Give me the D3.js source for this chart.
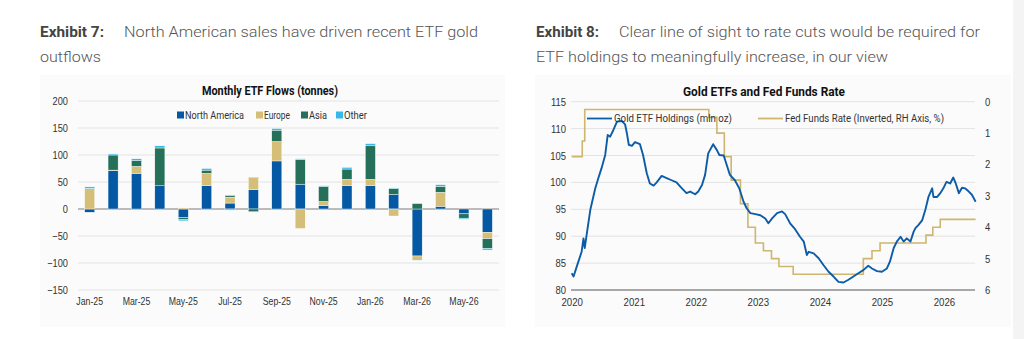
<!DOCTYPE html>
<html>
<head>
<meta charset="utf-8">
<script src="https://cdn.jsdelivr.net/npm/d3@7"></script>
<style>
  html, body { margin: 0; padding: 0; background: #fff; }
  svg { display: block; font-family: Roboto, 'Noto Sans', sans-serif; }
</style>
</head>
<body>
<div class="page"></div>
<script>
// Exhibit 7 data (tonnes)
var months = ['Jan-25', 'Feb-25', 'Mar-25', 'Apr-25', 'May-25', 'Jun-25', 'Jul-25', 'Aug-25', 'Sep-25',
  'Oct-25', 'Nov-25', 'Dec-25', 'Jan-26', 'Feb-26', 'Mar-26', 'Apr-26', 'May-26', 'Jun-26'];
var northAmerica = [-6, 71, 66, 43, -16, 43, 11, 36, 89, 46, 6, 43, 43, 27, -87, 5, -9, -43];
var europe = [38, 1, 13, 0, 2, 23, 11, 22, 36, -36, 8, 12, 12, -13, -8, 26, 0, -12];
var asia = [0, 28, 11, 70, -4, 6, 3, -5, 21, 46, 28, 19, 62, 11, 10, 11, -8, -18];
var other = [3, 2, 3, 4, -2, 3, -2, 1, 3, 1, 1, 3, 4, 1, -1, 3, -2, -3];
var regions = ['North America', 'Europe', 'Asia', 'Other'];
var flowTicks = [-150, -100, -50, 0, 50, 100, 150, 200];

// Exhibit 8 data: gold ETF holdings (mln oz), [decimal year, value]
var etfHoldings = [
  [2020.00, 83.1], [2020.03, 82.5], [2020.08, 84.3], [2020.16, 87.1], [2020.19, 89.6], [2020.21, 87.8],
  [2020.24, 90.2], [2020.30, 94.9], [2020.38, 98.9], [2020.43, 100.8], [2020.48, 102.6], [2020.54, 105.1],
  [2020.58, 108.8], [2020.62, 108.5], [2020.67, 109.7], [2020.73, 111.3], [2020.81, 111.4], [2020.86, 110.8],
  [2020.89, 109.1], [2020.92, 107.0], [2020.97, 106.8], [2021.02, 107.5], [2021.10, 107.1], [2021.15, 105.1],
  [2021.21, 101.7], [2021.26, 99.8], [2021.32, 99.4], [2021.37, 100.0], [2021.45, 101.2], [2021.53, 100.8],
  [2021.61, 100.4], [2021.69, 100.0], [2021.75, 99.2], [2021.80, 98.6], [2021.85, 98.0], [2021.91, 98.3],
  [2021.99, 97.8], [2022.04, 98.3], [2022.10, 99.5], [2022.15, 101.4], [2022.20, 105.4], [2022.28, 107.1],
  [2022.34, 106.0], [2022.38, 105.1], [2022.45, 105.0], [2022.50, 103.2], [2022.55, 101.4], [2022.63, 100.4],
  [2022.70, 98.9], [2022.77, 96.4], [2022.82, 95.2], [2022.88, 94.3], [2022.96, 94.1], [2023.04, 93.9],
  [2023.12, 93.3], [2023.17, 92.4], [2023.23, 93.3], [2023.31, 94.3], [2023.39, 94.6], [2023.44, 94.1],
  [2023.52, 92.4], [2023.60, 91.3], [2023.68, 89.9], [2023.74, 89.0], [2023.79, 86.5], [2023.82, 87.1],
  [2023.90, 86.8], [2023.98, 85.9], [2024.06, 84.6], [2024.14, 83.4], [2024.22, 82.5], [2024.30, 81.5],
  [2024.38, 81.4], [2024.46, 81.9], [2024.54, 82.5], [2024.62, 83.1], [2024.70, 83.7], [2024.78, 84.5],
  [2024.84, 84.0], [2024.92, 83.5], [2025.00, 83.4], [2025.08, 84.0], [2025.13, 85.3], [2025.19, 87.8],
  [2025.24, 89.0], [2025.30, 89.9], [2025.35, 89.0], [2025.40, 89.6], [2025.46, 89.0], [2025.51, 90.8],
  [2025.54, 91.5], [2025.59, 92.1], [2025.65, 93.0], [2025.70, 94.9], [2025.75, 97.3], [2025.81, 98.9],
  [2025.83, 97.3], [2025.89, 97.3], [2025.94, 98.0], [2025.99, 98.9], [2026.04, 100.1], [2026.10, 99.8],
  [2026.15, 100.9], [2026.19, 99.8], [2026.24, 98.0], [2026.29, 99.0], [2026.34, 98.9], [2026.40, 98.3],
  [2026.45, 97.7], [2026.51, 96.4]
];
// Fed funds rate (upper bound, %), steps [decimal year, rate]
var fedFunds = [
  [2020.00, 1.75], [2020.17, 1.25], [2020.21, 0.25], [2022.21, 0.5], [2022.34, 1.0], [2022.46, 1.75],
  [2022.57, 2.5], [2022.72, 3.25], [2022.84, 4.0], [2022.96, 4.5], [2023.09, 4.75], [2023.22, 5.0],
  [2023.34, 5.25], [2023.57, 5.5], [2024.70, 5.0], [2024.84, 4.75], [2024.97, 4.5], [2025.71, 4.25],
  [2025.82, 4.0], [2025.94, 3.75], [2026.51, 3.75]
];
var yearTicks = [2020, 2021, 2022, 2023, 2024, 2025, 2026];
var holdingTicks = [80, 85, 90, 95, 100, 105, 110, 115];
var rateTicks = [0, 1, 2, 3, 4, 5, 6];

var colors = {
  'North America': '#0559a4',
  Europe: '#d5be78',
  Asia: '#26705a',
  Other: '#35b9e9'
};
var blue = '#0c5ca8',
  gold = '#cfb66e',
  grid = '#e3e3e3',
  ink = '#333';

var svg = d3
  .select('.page')
  .append('svg')
  .attr('width', 1024)
  .attr('height', 339);

// squeeze a text to the width seen in the picture
function fit(sel, w) {
  sel.attr('textLength', w).attr('lengthAdjust', 'spacingAndGlyphs');
}
function narrow(sel, k) {
  sel.each(function () {
    var len = this.getComputedTextLength();
    d3.select(this).attr('textLength', len * k).attr('lengthAdjust', 'spacingAndGlyphs');
  });
}

// panels
svg.append('rect').attr('x', 40).attr('y', 75).attr('width', 465).attr('height', 252).attr('fill', '#fbfbfb');
svg.append('rect').attr('x', 535).attr('y', 75).attr('width', 476).attr('height', 252).attr('fill', '#fbfbfb');
svg.append('rect').attr('x', 1013).attr('y', 0).attr('width', 11).attr('height', 339).attr('fill', '#f4f4f4');

// headings
function heading(x, label, x2, line1, w1, line2, w2) {
  svg.append('text').attr('x', x).attr('y', 37).attr('font-size', 15).attr('font-weight', 700)
    .attr('fill', '#444').text(label).call(fit, x2 - x - 20);
  svg.append('text').attr('x', x2).attr('y', 37).attr('font-size', 15.5).attr('font-weight', 300)
    .attr('fill', '#555').text(line1).call(fit, w1);
  svg.append('text').attr('x', x).attr('y', 62).attr('font-size', 15.5).attr('font-weight', 300)
    .attr('fill', '#555').text(line2).call(fit, w2);
}
heading(40, 'Exhibit 7:', 124, 'North American sales have driven recent ETF gold', 354, 'outflows', 61);
heading(536, 'Exhibit 8:', 619, 'Clear line of sight to rate cuts would be required for', 361,
  'ETF holdings to meaningfully increase, in our view', 352);

// ---------- Exhibit 7: stacked bars ----------
var left = svg.append('g');

var x = d3
  .scaleBand()
  .domain(months)
  .range([78, 499])
  .paddingInner(0.57)
  .paddingOuter(0.285);

var y = d3.scaleLinear().domain([-150, 200]).range([290, 101]);

left.append('text').attr('x', 270).attr('y', 95).attr('text-anchor', 'middle').attr('font-size', 12.5)
  .attr('font-weight', 700).attr('fill', '#111').text('Monthly ETF Flows (tonnes)').call(fit, 136);

left
  .append('g')
  .selectAll('line')
  .data(flowTicks)
  .join('line')
  .attr('x1', 78)
  .attr('x2', 499)
  .attr('y1', function (d) { return y(d); })
  .attr('y2', function (d) { return y(d); })
  .attr('stroke', function (d) { return d === 0 ? '#a6a6a6' : grid; })
  .attr('stroke-width', function (d) { return d === 0 ? 1.6 : 1; });

var yAxis = left
  .append('g')
  .attr('transform', 'translate(68,0)')
  .call(d3.axisLeft(y).tickValues(flowTicks).tickSize(0).tickPadding(0));
yAxis.select('.domain').remove();
yAxis.selectAll('text').attr('font-size', 11).attr('fill', ink).call(narrow, 0.84);

var xAxis = left
  .append('g')
  .attr('transform', 'translate(0,297)')
  .call(d3.axisBottom(x).tickValues(months.filter(function (d, i) { return i % 2 === 0; })).tickSize(0).tickPadding(0));
xAxis.select('.domain').remove();
xAxis.selectAll('text').attr('font-size', 11.5).attr('fill', ink).attr('dy', '0.71em').call(narrow, 0.76);

var rows = months.map(function (m, i) {
  return {
    month: m,
    'North America': northAmerica[i],
    Europe: europe[i],
    Asia: asia[i],
    Other: other[i]
  };
});

var stack = d3.stack().keys(regions).offset(d3.stackOffsetDiverging)(rows);

left
  .append('g')
  .selectAll('g')
  .data(stack)
  .join('g')
  .attr('fill', function (d) { return colors[d.key]; })
  .selectAll('rect')
  .data(function (d) { return d; })
  .join('rect')
  .attr('x', function (d) { return x(d.data.month); })
  .attr('width', x.bandwidth())
  .attr('y', function (d) { return y(Math.max(d[0], d[1])); })
  .attr('height', function (d) { return Math.abs(y(d[0]) - y(d[1])); })
  .attr('stroke', '#fff')
  .attr('stroke-width', 0.4);

// legend
var legendX = [177, 256, 301, 336];
var legendW = [59, 26, 18, 23];
var legend = left
  .append('g')
  .selectAll('g')
  .data(regions)
  .join('g')
  .attr('transform', function (d, i) { return 'translate(' + legendX[i] + ',115)'; });
legend.append('rect').attr('x', 0).attr('y', -3.5).attr('width', 7).attr('height', 7)
  .attr('fill', function (d) { return colors[d]; });
legend.append('text').attr('x', 8).attr('dy', '0.35em').attr('font-size', 11).attr('fill', ink)
  .text(function (d) { return d; })
  .each(function (d, i) { d3.select(this).call(fit, legendW[i]); });

// ---------- Exhibit 8: lines ----------
var right = svg.append('g');

var xt = d3.scaleLinear().domain([2020, 2026.5]).range([571.7, 975]);
var yh = d3.scaleLinear().domain([80, 115]).range([290, 101.7]);
var yr = d3.scaleLinear().domain([0, 6]).range([101.7, 290]);

right.append('text').attr('x', 764).attr('y', 96).attr('text-anchor', 'middle').attr('font-size', 12.5)
  .attr('font-weight', 700).attr('fill', '#111').text('Gold ETFs and Fed Funds Rate').call(fit, 162);

right
  .append('g')
  .selectAll('line')
  .data(holdingTicks)
  .join('line')
  .attr('x1', 571)
  .attr('x2', 975)
  .attr('y1', function (d) { return yh(d); })
  .attr('y2', function (d) { return yh(d); })
  .attr('stroke', function (d) { return d === 80 ? '#8c8c8c' : grid; })
  .attr('stroke-width', function (d) { return d === 80 ? 1.3 : 1; });

var hAxis = right
  .append('g')
  .attr('transform', 'translate(566,0)')
  .call(d3.axisLeft(yh).tickValues(holdingTicks).tickSize(0).tickPadding(0));
hAxis.select('.domain').remove();
hAxis.selectAll('text').attr('font-size', 11).attr('fill', ink).call(narrow, 0.86);

var rAxis = right
  .append('g')
  .attr('transform', 'translate(985,0)')
  .call(d3.axisRight(yr).tickValues(rateTicks).tickFormat(d3.format('d')).tickSize(0).tickPadding(0));
rAxis.select('.domain').remove();
rAxis.selectAll('text').attr('font-size', 11).attr('fill', ink).call(narrow, 0.86);

var tAxis = right
  .append('g')
  .attr('transform', 'translate(0,298)')
  .call(d3.axisBottom(xt).tickValues(yearTicks).tickFormat(d3.format('d')).tickSize(0).tickPadding(0));
tAxis.select('.domain').remove();
tAxis.selectAll('text').attr('font-size', 11.5).attr('fill', ink).attr('dy', '0.71em').call(narrow, 0.84);

right
  .append('path')
  .datum(fedFunds)
  .attr('fill', 'none')
  .attr('stroke', gold)
  .attr('stroke-width', 1.6)
  .attr('d', d3.line()
    .curve(d3.curveStepAfter)
    .x(function (d) { return xt(d[0]); })
    .y(function (d) { return yr(d[1]); }));

right
  .append('path')
  .datum(etfHoldings)
  .attr('fill', 'none')
  .attr('stroke', blue)
  .attr('stroke-width', 1.9)
  .attr('stroke-linejoin', 'round')
  .attr('d', d3.line()
    .x(function (d) { return xt(d[0]); })
    .y(function (d) { return yh(d[1]); }));

// legend
var lineLegend = [
  { label: 'Gold ETF Holdings (mln oz)', color: blue, x: 587, w: 118 },
  { label: 'Fed Funds Rate (Inverted, RH Axis, %)', color: gold, x: 758, w: 159 }
];
var ll = right
  .append('g')
  .selectAll('g')
  .data(lineLegend)
  .join('g')
  .attr('transform', function (d) { return 'translate(' + d.x + ',118.5)'; });
ll.append('line').attr('x1', 0).attr('x2', 25).attr('stroke-width', 1.8)
  .attr('stroke', function (d) { return d.color; });
ll.append('text').attr('x', 27).attr('dy', '0.35em').attr('font-size', 11).attr('fill', ink)
  .text(function (d) { return d.label; })
  .each(function (d) { d3.select(this).call(fit, d.w); });
</script>
</body>
</html>
